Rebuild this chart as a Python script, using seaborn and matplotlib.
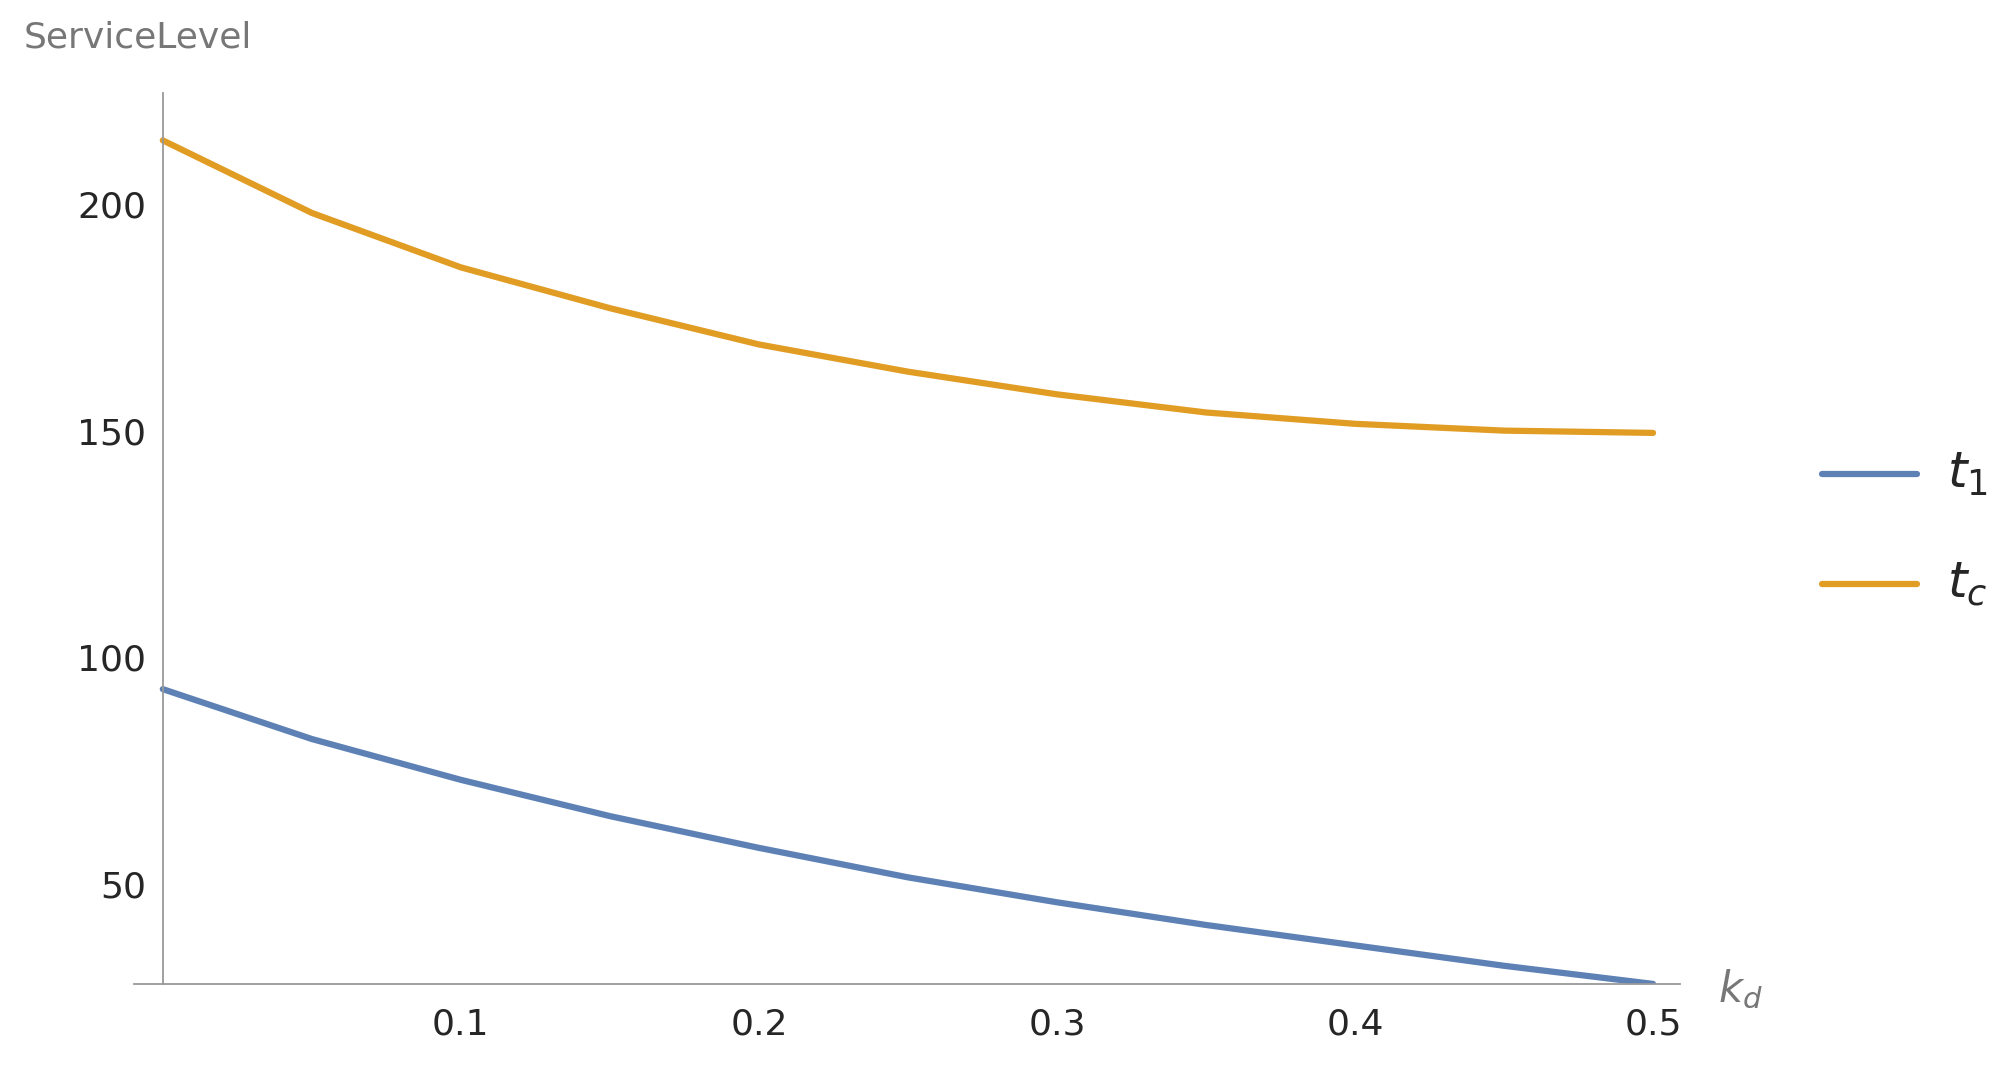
import pandas as pd
import matplotlib.pyplot as plt
import seaborn as sns
from matplotlib.ticker import MultipleLocator

kd = [0.0, 0.05, 0.1, 0.15, 0.2, 0.25, 0.3, 0.35, 0.4, 0.45, 0.5]
t1 = [93, 82, 73, 65, 58, 51.5, 46, 41, 36.5, 32, 28]
tc = [214, 198, 186, 177, 169, 163, 158, 154, 151.5, 150, 149.5]

df = pd.DataFrame({"kd": kd * 2, "val": t1 + tc,
                   "series": ["t1"] * len(kd) + ["tc"] * len(kd)})

sns.set_style("white")
fig = plt.figure(figsize=(20.07, 10.66), dpi=100)
ax = fig.add_axes([0.067, 0.077, 0.77, 0.836])
sns.lineplot(data=df, x="kd", y="val", hue="series",
             palette={"t1": "#5E81B5", "tc": "#E19C24"}, linewidth=4.5, ax=ax, legend=False)

ax.set_xlim(-0.0095, 0.509)
ax.set_ylim(28, 224.5)
ax.spines["left"].set_position(("data", 0))
ax.spines["bottom"].set_position(("data", 28))
for s in ["top", "right"]:
    ax.spines[s].set_visible(False)
for s in ["left", "bottom"]:
    ax.spines[s].set_color("#999999")
    ax.spines[s].set_linewidth(1.3)
ax.xaxis.set_major_locator(MultipleLocator(0.1))
ax.xaxis.set_minor_locator(MultipleLocator(0.02))
ax.yaxis.set_major_locator(MultipleLocator(50))
ax.yaxis.set_minor_locator(MultipleLocator(10))
ax.set_xticks([0.1, 0.2, 0.3, 0.4, 0.5])
ax.set_xticklabels(["0.1", "0.2", "0.3", "0.4", "0.5"])
ax.tick_params(which="major", direction="in", length=10, color="#999999", labelsize=26, pad=12)
ax.tick_params(which="minor", direction="in", length=5, color="#999999")
ax.tick_params(axis="x", which="both", direction="inout")
ax.set_xlabel("")
ax.set_ylabel("")

fig.text(0.012, 0.965, "ServiceLevel", fontsize=26, color="#777777", va="center")
fig.text(0.856, 0.072, r"$k_d$", fontsize=30, color="#777777", va="center")

# legend outside right
for y, c, lab in [(0.555, "#5E81B5", r"$t_1$"), (0.452, "#E19C24", r"$t_c$")]:
    fig.add_artist(plt.Line2D([0.908, 0.955], [y, y], color=c, linewidth=4.5))
    fig.text(0.970, y, lab, fontsize=36, va="center")

fig.savefig("out.png", dpi=100)
